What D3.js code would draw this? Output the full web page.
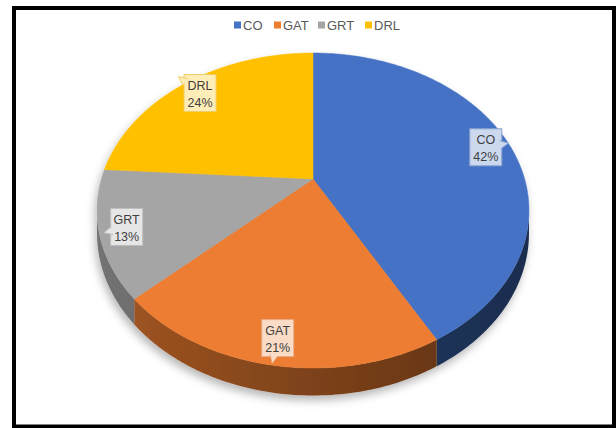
<!DOCTYPE html>
<html>
<head>
<meta charset="utf-8">
<script src="https://cdn.jsdelivr.net/npm/d3@7"></script>
<style>
  body { margin: 0; background: #fff; }
  svg { display: block; font-family: "Liberation Sans", Arial, sans-serif; }
</style>
</head>
<body>
<svg id="chart"></svg>
<script>
const width = 616
const height = 428
const categories = ['CO', 'GAT', 'GRT', 'DRL']
const values = [42, 21, 13, 24]
const colors = ['#4472C4', '#ED7D31', '#A5A5A5', '#FFC000']

const svg = d3.select('#chart').attr('width', width).attr('height', height)

// frame
svg.append('rect')
  .attr('x', 14).attr('y', 8)
  .attr('width', 600).attr('height', 418.5)
  .attr('fill', 'none').attr('stroke', '#000').attr('stroke-width', 4)

const color = d3.scaleOrdinal().domain(categories).range(colors)

// tilted pie with a bit of perspective
const cx = 313, cy = 179, A = 211.6, B = 151.2, k = 0.2
function proj(a, r = 1) {
  const u = r * Math.sin(a), v = r * Math.cos(a), w = 1 + k * v
  return [cx + A * u / w, cy - B * v / w, w]
}

const pie = d3.pie().sort(null).value(d => d.value)
const arcs = pie(categories.map((c, i) => ({ name: c, value: values[i] })))
const total = d3.sum(values)
const pct = d3.format('.0%')

const defs = svg.append('defs')
const f = defs.append('filter').attr('id', 'shadow')
  .attr('x', '-20%').attr('y', '-20%').attr('width', '140%').attr('height', '140%')
f.append('feDropShadow').attr('dx', -2).attr('dy', 5).attr('stdDeviation', 4)
  .attr('flood-color', '#000').attr('flood-opacity', 0.28)

const g = svg.append('g').attr('filter', 'url(#shadow)')

// side wall: only the part in front of the silhouette
const aRight = Math.acos(-k), aLeft = 2 * Math.PI - aRight
const xs = d3.scaleLinear().domain([-1, 1]).range([cx - A * 1.02, cx + A * 1.02])
arcs.forEach((d, i) => {
  const a0 = Math.max(d.startAngle, aRight), a1 = Math.min(d.endAngle, aLeft)
  if (a1 <= a0) return
  const grad = defs.append('linearGradient').attr('id', 'side' + i)
    .attr('gradientUnits', 'userSpaceOnUse')
    .attr('x1', xs(-1)).attr('x2', xs(1)).attr('y1', 0).attr('y2', 0)
  d3.range(-1, 1.01, 0.25).forEach(u => {
    grad.append('stop').attr('offset', (u + 1) / 2)
      .attr('stop-color', d3.color(color(d.data.name)).darker(1.8 + 0.8 * u).formatHex())
  })
  const n = Math.ceil((a1 - a0) / (Math.PI / 180))
  const top = [], bot = []
  for (let j = 0; j <= n; j++) {
    const p = proj(a0 + (a1 - a0) * j / n)
    top.push([p[0], p[1]])
    bot.push([p[0], p[1] + 22 / p[2]])
  }
  g.append('path')
    .attr('d', 'M' + top.concat(bot.reverse()).join('L') + 'Z')
    .attr('fill', `url(#side${i})`)
})

// top faces
g.selectAll('.top')
  .data(arcs)
  .join('path')
  .attr('class', 'top')
  .attr('d', d => {
    const pts = [[cx, cy]]
    const n = Math.ceil((d.endAngle - d.startAngle) / (Math.PI / 180))
    for (let j = 0; j <= n; j++) {
      const p = proj(d.startAngle + (d.endAngle - d.startAngle) * j / n)
      pts.push([p[0], p[1]])
    }
    return 'M' + pts.join('L') + 'Z'
  })
  .attr('fill', d => color(d.data.name))
  .attr('stroke', d => color(d.data.name))
  .attr('stroke-width', 0.5)

// callout labels
svg.selectAll('.lbl')
  .data(arcs)
  .join('g')
  .attr('class', 'lbl')
  .each(function (d) {
    const sel = d3.select(this)
    const mid = (d.startAngle + d.endAngle) / 2
    const p = proj(mid, 0.88)
    const fillC = d3.interpolateRgb(color(d.data.name), '#ffffff')(0.72)
    const strokeC = d3.interpolateRgb(d3.color(color(d.data.name)).darker(0.3).formatHex(), '#ffffff')(0.4)
    const bw = 32, bh = 37
    const x0 = p[0] - bw / 2, y0 = p[1] - bh / 2
    sel.append('rect')
      .attr('x', x0).attr('y', y0).attr('width', bw).attr('height', bh)
      .attr('fill', fillC).attr('stroke', strokeC).attr('stroke-width', 1)
    // pointer toward the rim
    const dx = p[0] - cx, dy = p[1] - cy, len = Math.hypot(dx, dy)
    const ux = dx / len, uy = dy / len
    const tx = Math.abs(ux) * bh > Math.abs(uy) * bw ? bw / 2 / Math.abs(ux) : bh / 2 / Math.abs(uy)
    const bx = p[0] + ux * (tx - 1.5), by = p[1] + uy * (tx - 1.5)
    const tip = [p[0] + ux * (tx + 7), p[1] + uy * (tx + 7)]
    const b1 = [bx - uy * 4, by + ux * 4], b2 = [bx + uy * 4, by - ux * 4]
    sel.append('path').attr('d', 'M' + [b1, tip, b2].join('L') + 'Z')
      .attr('fill', fillC)
    sel.append('path').attr('d', 'M' + [b1, tip, b2].join('L'))
      .attr('fill', 'none').attr('stroke', strokeC).attr('stroke-width', 1)
    const t = sel.append('text')
      .attr('text-anchor', 'middle')
      .attr('fill', '#404040')
      .style('font-size', '12.5px')
    t.append('tspan').attr('x', p[0]).attr('y', p[1] - 3).text(d.data.name)
    t.append('tspan').attr('x', p[0]).attr('y', p[1] + 14).text(pct(d.data.value / total))
  })

// legend
const legendPos = [234, 274, 318, 365]
const lg = svg.selectAll('.leg')
  .data(categories)
  .join('g')
  .attr('class', 'leg')
  .attr('transform', (d, i) => `translate(${legendPos[i]},25)`)
lg.append('rect').attr('x', 0).attr('y', -3.5).attr('width', 7).attr('height', 7)
  .attr('fill', d => color(d))
lg.append('text').attr('x', 9).attr('y', 4.5)
  .attr('fill', '#595959').style('font-size', '13px')
  .text(d => d)
</script>
</body>
</html>
